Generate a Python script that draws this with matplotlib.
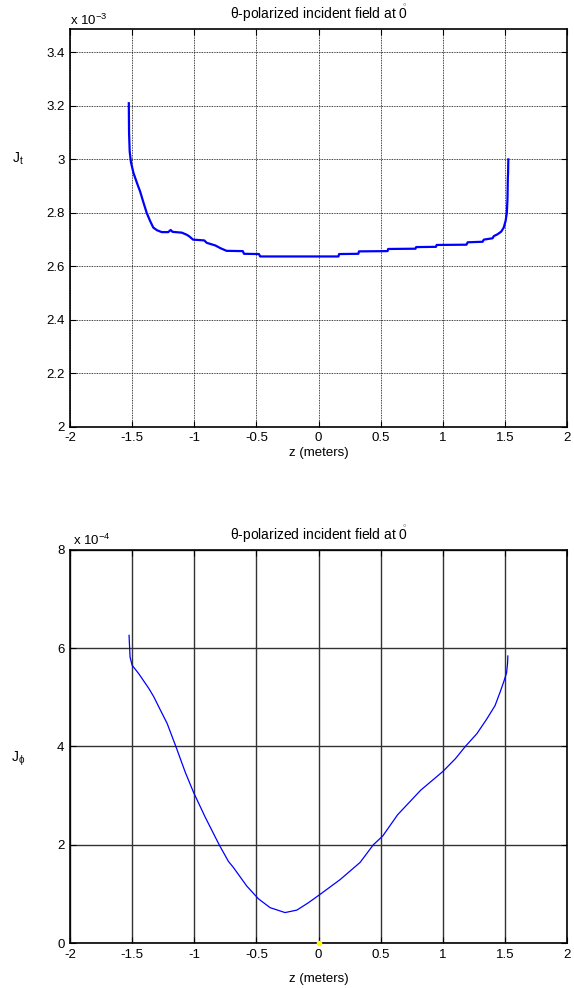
import matplotlib
matplotlib.use('Agg')
import matplotlib.pyplot as plt
from matplotlib.ticker import FuncFormatter, MultipleLocator

plt.rcParams['font.family'] = ['Liberation Sans', 'DejaVu Sans']
plt.rcParams['font.size'] = 9.5
plt.rcParams['mathtext.fontset'] = 'custom'
plt.rcParams['mathtext.rm'] = 'Liberation Sans'
plt.rcParams['mathtext.it'] = 'Liberation Sans'

# J_t along z (units of 1e-3)
z_t = [-1.527, -1.525, -1.52, -1.51, -1.49, -1.46, -1.436, -1.41, -1.383, -1.356,
       -1.33, -1.30, -1.262, -1.21, -1.19, -1.175, -1.10, -1.06, -1.04, -1.01,
       -0.92, -0.90, -0.83, -0.79, -0.74, -0.61, -0.60, -0.48, -0.47, 0.16,
       0.165, 0.32, 0.325, 0.555, 0.56, 0.78, 0.785, 0.945, 0.95, 1.19,
       1.20, 1.32, 1.33, 1.40, 1.41, 1.44, 1.47, 1.49, 1.505, 1.515,
       1.52, 1.523, 1.525, 1.527]
jt = [3.21, 3.10, 3.03, 2.99, 2.95, 2.91, 2.88, 2.84, 2.80, 2.77,
      2.745, 2.735, 2.728, 2.728, 2.736, 2.729, 2.726, 2.718, 2.712, 2.70,
      2.697, 2.688, 2.678, 2.668, 2.658, 2.657, 2.647, 2.646, 2.637, 2.637,
      2.646, 2.647, 2.656, 2.657, 2.665, 2.666, 2.672, 2.673, 2.68, 2.681,
      2.69, 2.692, 2.70, 2.705, 2.713, 2.72, 2.73, 2.745, 2.77, 2.80,
      2.85, 2.93, 2.95, 3.00]

# J_phi along z (units of 1e-4)
z_p = [-1.525, -1.522, -1.517, -1.50, -1.447, -1.366, -1.326, -1.273, -1.219, -1.147,
       -1.072, -1.005, -0.912, -0.80, -0.725, -0.686, -0.578, -0.484, -0.39, -0.27,
       -0.175, -0.082, 0.012, 0.173, 0.334, 0.441, 0.517, 0.636, 0.822, 1.0,
       1.101, 1.181, 1.274, 1.354, 1.42, 1.46, 1.492, 1.513, 1.521, 1.523]
jp = [6.26, 6.09, 5.82, 5.65, 5.48, 5.18, 5.01, 4.74, 4.47, 3.99,
      3.47, 3.06, 2.56, 2.0, 1.66, 1.54, 1.16, 0.90, 0.72, 0.62,
      0.67, 0.82, 0.99, 1.29, 1.64, 2.0, 2.18, 2.61, 3.11, 3.49,
      3.75, 4.0, 4.26, 4.56, 4.83, 5.10, 5.33, 5.50, 5.70, 5.84]

title = r'$\theta$-polarized incident field at $\mathring{0}$'

fig = plt.figure(figsize=(5.74, 9.88), dpi=100)
ax1 = fig.add_axes([0.122, 0.568, 0.866, 0.4025])
ax2 = fig.add_axes([0.122, 0.0455, 0.866, 0.398])

def style(ax):
    ax.tick_params(direction='in', top=True, right=True, length=4, width=0.8, pad=4)
    for s in ax.spines.values():
        s.set_linewidth(1.2)
    ax.set_xlim(-2, 2)
    ax.xaxis.set_major_locator(MultipleLocator(0.5))
    ax.xaxis.set_major_formatter(FuncFormatter(lambda v, p: '%g' % v))
    ax.set_title(title, fontsize=10, pad=7)

# top panel
ax1.plot(z_t, [v * 1e-3 for v in jt], color='#0000ff', lw=1.6)
style(ax1)
ax1.set_ylim(2e-3, 3.487e-3)
ax1.yaxis.set_major_locator(MultipleLocator(0.2e-3))
ax1.yaxis.set_major_formatter(FuncFormatter(lambda v, p: '%g' % round(v * 1e3, 3)))
ax1.grid(True, color='k', linestyle=(0, (1, 1)), linewidth=0.6)
ax1.set_xlabel('z (meters)', labelpad=2)
ax1.set_ylabel(r'J$_{\mathrm{t}}$', rotation=0, fontsize=10)
ax1.yaxis.set_label_coords(-0.105, 0.653)
ax1.text(0, 1.004, r'x 10$^{\mathrm{-3}}$', transform=ax1.transAxes, ha='left', va='bottom')

# bottom panel
ax2.plot(z_p, [v * 1e-4 for v in jp], color='#0000ff', lw=0.9)
ax2.plot([0], [0], 'o', color='yellow', ms=3, clip_on=False, zorder=5)
style(ax2)
ax2.set_ylim(0, 8e-4)
ax2.yaxis.set_major_locator(MultipleLocator(2e-4))
ax2.yaxis.set_major_formatter(FuncFormatter(lambda v, p: '%g' % round(v * 1e4, 3)))
ax2.grid(True, color='0.2', linestyle='-', linewidth=1.0)
ax2.set_xlabel('z (meters)', labelpad=9)
ax2.set_ylabel(r'J$_{\phi}$', rotation=0, fontsize=10)
ax2.yaxis.set_label_coords(-0.105, 0.445)
ax2.text(0.005, 1.004, r'x 10$^{\mathrm{-4}}$', transform=ax2.transAxes, ha='left', va='bottom')

fig.savefig('out.png', dpi=100)
